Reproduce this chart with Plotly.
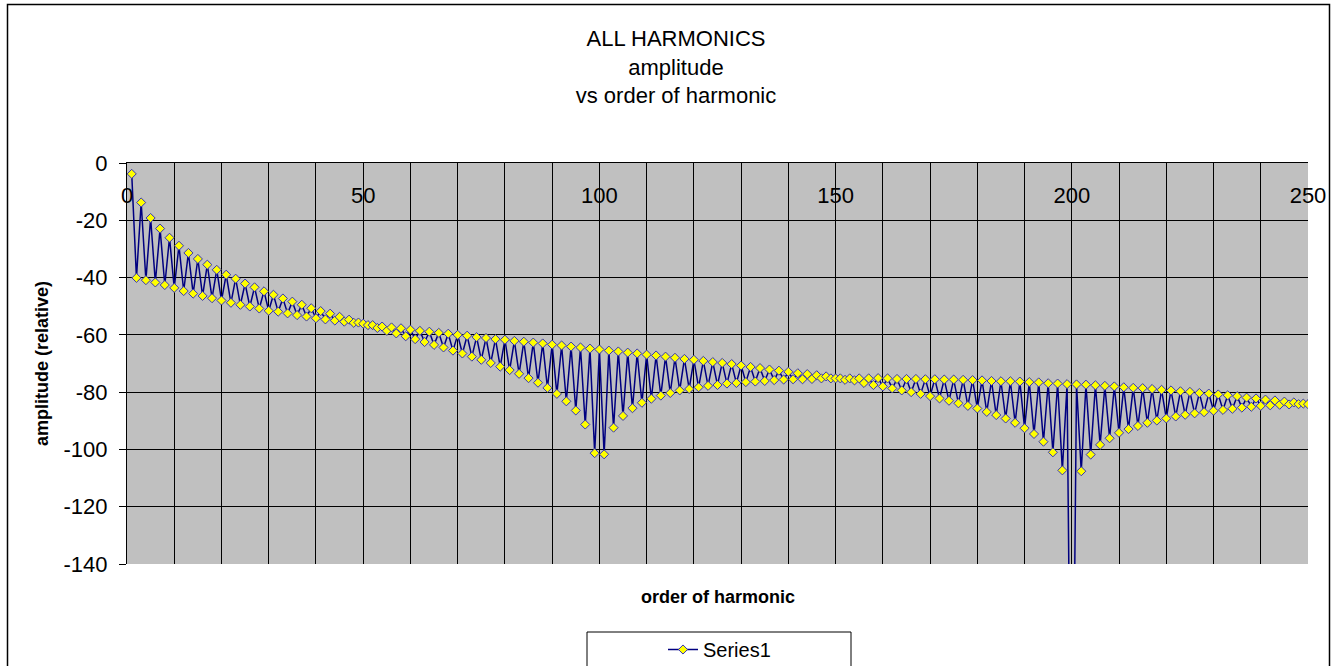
import plotly.graph_objects as go

# ---- data ----
harmonic_order = list(range(1, 251))

amplitude = [
    -3.8, -40.1, -13.8, -40.9, -19.2, -41.7, -22.9, -42.6, -26.1, -43.6,
    -28.9, -44.7, -31.4, -45.6, -33.5, -46.4, -35.5, -47.2, -37.3, -48.0,
    -39.0, -48.8, -40.4, -49.5, -42.1, -50.1, -43.4, -50.8, -44.8, -51.6,
    -46.0, -51.9, -47.3, -52.5, -48.4, -53.1, -49.5, -53.6, -50.7, -54.2,
    -51.7, -54.6, -52.6, -55.0, -53.7, -55.4, -54.7, -55.8, -55.7, -56.1,
    -56.6, -56.6, -57.6, -57.1, -58.6, -57.4, -59.5, -57.7, -60.5, -58.2,
    -61.5, -58.6, -62.5, -58.9, -63.5, -59.3, -64.4, -59.6, -65.5, -60.0,
    -66.5, -60.3, -67.6, -60.8, -68.7, -61.1, -69.8, -61.5, -71.1, -61.7,
    -72.3, -62.1, -73.6, -62.4, -75.1, -62.7, -76.7, -63.0, -78.5, -63.4,
    -80.6, -63.7, -83.2, -64.1, -86.4, -64.4, -91.3, -64.8, -101.3, -65.1,
    -101.7, -65.5, -92.4, -65.8, -88.3, -66.2, -85.6, -66.5, -83.7, -66.9,
    -82.3, -67.2, -81.2, -67.6, -80.3, -68.0, -79.4, -68.4, -78.9, -68.7,
    -78.3, -69.1, -77.8, -69.5, -77.5, -69.8, -77.0, -70.2, -76.8, -70.7,
    -76.5, -71.2, -76.3, -71.6, -76.1, -72.1, -75.8, -72.5, -75.6, -72.9,
    -75.5, -73.4, -75.5, -73.7, -75.4, -74.1, -75.2, -74.5, -75.2, -75.2,
    -75.2, -75.7, -75.2, -75.9, -75.2, -76.8, -75.2, -77.5, -75.1, -78.0,
    -75.2, -78.7, -75.4, -79.4, -75.4, -80.0, -75.4, -80.6, -75.5, -81.4,
    -75.5, -82.2, -75.6, -83.0, -75.6, -83.9, -75.7, -84.8, -75.8, -85.7,
    -75.9, -86.9, -76.1, -88.0, -76.2, -89.2, -76.2, -90.7, -76.3, -92.6,
    -76.5, -94.6, -76.6, -97.3, -76.9, -101.0, -77.0, -107.3, -77.2, -250.0,
    -77.3, -107.6, -77.4, -101.8, -77.6, -98.4, -77.8, -96.1, -78.0, -94.2,
    -78.3, -92.9, -78.5, -91.8, -78.6, -90.7, -78.9, -89.9, -79.2, -89.2,
    -79.4, -88.5, -79.7, -87.9, -79.9, -87.4, -80.3, -87.0, -80.5, -86.5,
    -80.8, -86.2, -81.1, -85.8, -81.4, -85.4, -81.9, -85.1, -82.2, -84.8,
    -82.6, -84.6, -82.9, -84.4, -83.3, -84.3, -83.6, -84.2, -84.0, -84.2,
]

x_tick_vals = [0, 50, 100, 150, 200, 250]
x_tick_text = ["0", "50", "100", "150", "200", "250"]
y_tick_vals = [0, -20, -40, -60, -80, -100, -120, -140]
y_tick_text = ["0", "-20", "-40", "-60", "-80", "-100", "-120", "-140"]

series_name = "Series1"
title_lines = ["ALL HARMONICS", "amplitude", "vs order of harmonic"]
x_title = "order of harmonic"
y_title = "amplitude (relative)"

# ---- geometry (pixels) ----
W, H = 1336, 666
L, R, T, B = 127, 1308, 163, 564
FONT = "Liberation Sans, Arial, sans-serif"


def px_x(p):
    return (p - L) / (R - L)


def px_y(p):
    return (B - p) / (B - T)


fig = go.Figure()
fig.add_trace(go.Scatter(
    x=harmonic_order, y=amplitude, name=series_name,
    mode="lines+markers",
    line=dict(color="#000080", width=1.5),
    marker=dict(symbol="diamond", size=7, color="#FFFF00",
                line=dict(color="#3535b5", width=1)),
    showlegend=True,
))

fig.update_layout(
    width=W, height=H,
    margin=dict(l=L, r=W - R, t=T, b=H - B, pad=0, autoexpand=False),
    paper_bgcolor="white",
    plot_bgcolor="#C0C0C0",
    font=dict(family=FONT, color="black", size=22),
    title=dict(text="<br>".join(title_lines), x=676 / W, xanchor="center",
               y=1 - 46 / H, yanchor="top", yref="container",
               font=dict(family=FONT, size=22, color="black")),
    showlegend=True,
    legend=dict(x=px_x(663), xanchor="left", y=px_y(630), yanchor="top",
                bgcolor="rgba(0,0,0,0)", borderwidth=0,
                font=dict(family=FONT, size=20, color="black"),
                itemwidth=30),
    xaxis=dict(
        range=[0, 250], side="top", automargin=False,
        tickvals=x_tick_vals, ticktext=x_tick_text,
        ticks="", ticklabelposition="inside", ticklabelstandoff=26,
        ticklabeloverflow="allow",
        tickfont=dict(family=FONT, size=22, color="black"),
        showgrid=True, gridcolor="black", gridwidth=1,
        minor=dict(dtick=10, showgrid=True, gridcolor="black", gridwidth=1, ticks=""),
        showline=True, linecolor="black", linewidth=1,
        zeroline=False, fixedrange=True,
    ),
    yaxis=dict(
        range=[-140, 0], automargin=False,
        tickvals=y_tick_vals, ticktext=y_tick_text,
        ticks="outside", ticklen=7, tickcolor="black", tickwidth=1,
        ticklabelstandoff=7,
        tickfont=dict(family=FONT, size=22, color="black"),
        showgrid=True, gridcolor="black", gridwidth=1,
        showline=True, linecolor="black", linewidth=1,
        zeroline=False, fixedrange=True,
        title=dict(text="<b>" + y_title + "</b>", standoff=10,
                   font=dict(family=FONT, size=18, color="black")),
    ),
    annotations=[
        dict(text="<b>" + x_title + "</b>", xref="paper", yref="paper",
             x=px_x(718), y=px_y(597), xanchor="center", yanchor="middle",
             showarrow=False, font=dict(family=FONT, size=18, color="black")),
    ],
    shapes=[
        # chart-area border
        dict(type="rect", xref="paper", yref="paper",
             x0=px_x(7.5), x1=px_x(1329.5), y0=px_y(700), y1=px_y(4.5),
             line=dict(color="black", width=1.5), fillcolor="rgba(0,0,0,0)", layer="below"),
        # legend box
        dict(type="rect", xref="paper", yref="paper",
             x0=px_x(587), x1=px_x(851), y0=px_y(700), y1=px_y(632),
             line=dict(color="black", width=1), fillcolor="white", layer="below"),
    ],
)

fig.write_html("out.html", config={"displayModeBar": False},
               post_script="document.body.style.margin='0px';")
